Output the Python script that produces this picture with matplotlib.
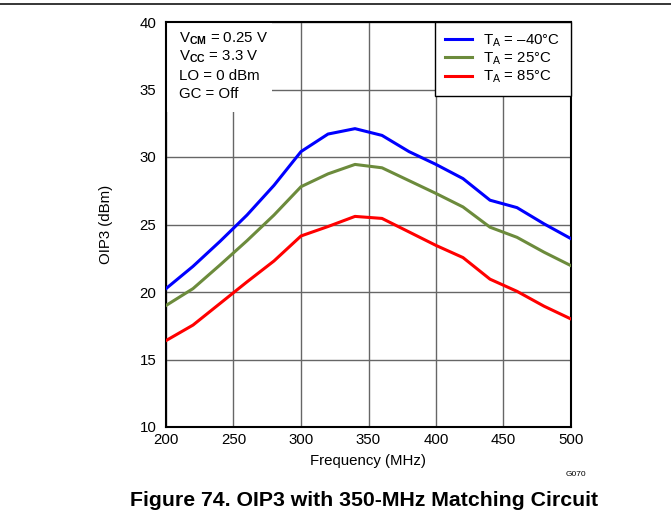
import numpy as np
import matplotlib
matplotlib.use("Agg")
import matplotlib.pyplot as plt
from matplotlib.patches import Rectangle
from matplotlib.lines import Line2D

# -----------------------------
# Fonts
# -----------------------------
plt.rcParams["font.family"] = ["Liberation Sans", "DejaVu Sans"]
plt.rcParams["mathtext.fontset"] = "custom"
plt.rcParams["mathtext.rm"] = "Liberation Sans"
plt.rcParams["mathtext.bf"] = "Liberation Sans:bold"
plt.rcParams["mathtext.it"] = "Liberation Sans:italic"

# -----------------------------
# Data — OIP3 (dBm) vs frequency (MHz)
# -----------------------------
freq_mhz = [200, 220, 240, 260, 280, 300, 320, 340, 360, 380, 400, 420, 440, 460, 480, 500]
oip3_m40 = [20.25, 21.9, 23.75, 25.7, 27.9, 30.4, 31.7, 32.1, 31.6, 30.4, 29.45, 28.4, 26.8, 26.25, 25.05, 23.95]
oip3_25 = [19.0, 20.25, 22.0, 23.8, 25.7, 27.8, 28.75, 29.45, 29.2, 28.25, 27.3, 26.3, 24.8, 24.05, 22.95, 21.95]
oip3_85 = [16.4, 17.55, 19.15, 20.75, 22.3, 24.15, 24.85, 25.6, 25.45, 24.45, 23.45, 22.55, 20.95, 20.05, 18.95, 18.0]

series_labels = [r"T$_{\mathrm{A}}$ = –40°C", r"T$_{\mathrm{A}}$ = 25°C", r"T$_{\mathrm{A}}$ = 85°C"]
series_colors = ["#0000ff", "#6c8b3c", "#ff0000"]

x_ticks = [200, 250, 300, 350, 400, 450, 500]
y_ticks = [10, 15, 20, 25, 30, 35, 40]

conditions = [
    r"V$_{\mathbf{CM}}$ = 0.25 V",
    r"V$_{\mathbf{CC}}$ = 3.3 V",
    "LO = 0 dBm",
    "GC = Off",
]

# -----------------------------
# Figure
# -----------------------------
W, H = 671, 529
fig = plt.figure(figsize=(W / 100, H / 100), dpi=100)
ax = fig.add_axes([166 / W, 1 - 427 / H, 405 / W, 405 / H])

for values, label, color in zip([oip3_m40, oip3_25, oip3_85], series_labels, series_colors):
    ax.plot(freq_mhz, values, color=color, linewidth=2.2, label=label, zorder=3)

ax.set_xlim(200, 500)
ax.set_ylim(10, 40)
ax.set_xticks(x_ticks)
ax.set_yticks(y_ticks)
ax.tick_params(length=0, labelsize=10.8)
ax.tick_params(axis="y", pad=7)
ax.tick_params(axis="x", pad=4.5)
ax.set_axisbelow(True)
ax.grid(True, color="#666666", linewidth=1.0)
for spine in ax.spines.values():
    spine.set_linewidth(1.5)
    spine.set_color("black")

ax.set_xlabel("Frequency (MHz)", fontsize=10.8, labelpad=5)
ax.set_ylabel("OIP3 (dBm)", fontsize=10.8, labelpad=19)

# white block behind the test conditions
ax.add_patch(Rectangle((0, 1 - 90 / 405), 106 / 405, 90 / 405, transform=ax.transAxes,
                       facecolor="white", edgecolor="none", zorder=1))
for i, line in enumerate(conditions):
    ax.text(13 / 405, 1 - (16.5 + 18.5 * i) / 405, line, transform=ax.transAxes,
            fontsize=10.8, ha="left", va="center", zorder=4)

leg = ax.legend(loc="upper right", fontsize=10.8, frameon=True, fancybox=False,
                borderaxespad=0, handlelength=1.8, handletextpad=0.75,
                labelspacing=0.12, borderpad=0.7)
leg.get_frame().set_edgecolor("black")
leg.get_frame().set_linewidth(1.0)
leg.get_frame().set_alpha(1)

# -----------------------------
# Page decorations
# -----------------------------
fig.add_artist(Line2D([0, 1], [1 - 4 / H, 1 - 4 / H], color="black", linewidth=1.1))
fig.text(586 / W, 1 - 475 / H, "G070", fontsize=6, ha="right", va="center")
fig.text(364 / W, 1 - 506 / H, "Figure 74. OIP3 with 350-MHz Matching Circuit",
         fontsize=15.3, fontweight="bold", ha="center", va="baseline")

fig.savefig("out.png", dpi=100)
